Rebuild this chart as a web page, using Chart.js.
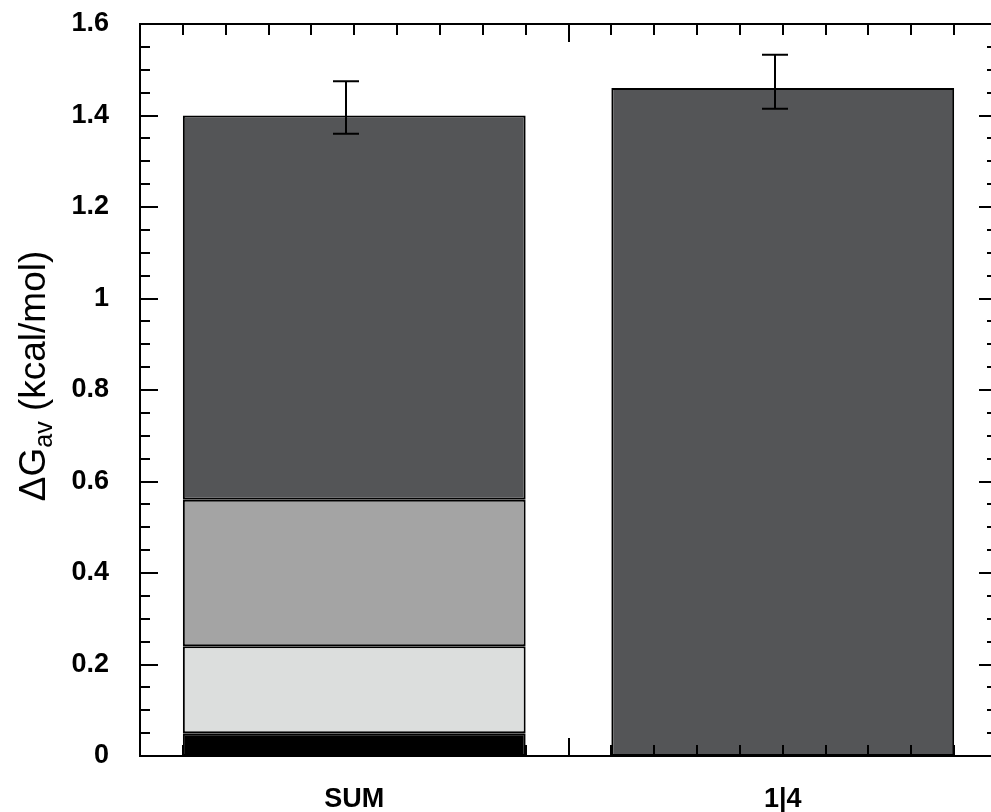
<!DOCTYPE html>
<html>
<head>
<meta charset="utf-8">
<script src="https://cdn.jsdelivr.net/npm/chart.js@4.4.1/dist/chart.umd.min.js"></script>
<style>
  html, body { margin: 0; padding: 0; background: #fff; overflow: hidden; }
  #wrap { width: 1000px; height: 812px; }
</style>
</head>
<body>
<div id="wrap"><canvas id="bars"></canvas></div>
<script>
// categories and stacked contributions (kcal/mol)
const categories = ['SUM', '1|4'];
const partA = [0.05, null];   // black
const partB = [0.19, null];   // light grey
const partC = [0.32, null];   // mid grey
const partD = [0.84, 1.46];   // dark grey (total for 1|4)
// error bars around the bar tops
const errLow = [1.36, 1.415];
const errHigh = [1.475, 1.533];
const yTicks = [0, 0.2, 0.4, 0.6, 0.8, 1, 1.2, 1.4, 1.6];

const colors = ['#000000', '#dcdedd', '#a4a4a4', '#545557'];

const ds = (data, i) => ({
  data: data,
  backgroundColor: colors[i],
  borderColor: '#000',
  borderWidth: 2,
  borderSkipped: false,
  barPercentage: 0.8,
  categoryPercentage: 1.0
});

// frame, inward ticks (major + minor), error bars and y title
const decor = {
  id: 'decor',
  afterDatasetsDraw(chart) {
    const { ctx, chartArea: a, scales: { x, y } } = chart;
    ctx.save();
    ctx.strokeStyle = '#000';
    ctx.lineWidth = 2;
    ctx.strokeRect(a.left, a.top, a.right - a.left, a.bottom - a.top);

    ctx.beginPath();
    // y ticks every 0.05, longer every 0.2
    for (let k = 0; k <= 32; k++) {
      const py = Math.round(y.getPixelForValue(k * 0.05));
      const len = k % 4 === 0 ? 18 : 10;
      ctx.moveTo(a.left, py); ctx.lineTo(a.left + len, py);
      ctx.moveTo(a.right, py); ctx.lineTo(a.right - len, py);
    }
    // x ticks: ten per category, longer at category boundaries
    for (let k = 0; k <= 20; k++) {
      const px = Math.round(x.getPixelForValue(-0.5 + k * 0.1));
      const len = k % 10 === 0 ? 18 : 11;
      ctx.moveTo(px, a.bottom); ctx.lineTo(px, a.bottom - len);
      ctx.moveTo(px, a.top); ctx.lineTo(px, a.top + len);
    }
    ctx.stroke();

    // error bars
    ctx.beginPath();
    categories.forEach((c, i) => {
      const px = Math.round(x.getPixelForValue(i)) - 8;
      const lo = y.getPixelForValue(errLow[i]);
      const hi = y.getPixelForValue(errHigh[i]);
      ctx.moveTo(px, lo); ctx.lineTo(px, hi);
      ctx.moveTo(px - 13, lo); ctx.lineTo(px + 13, lo);
      ctx.moveTo(px - 13, hi); ctx.lineTo(px + 13, hi);
    });
    ctx.stroke();

    // rotated y title with subscript
    const main = '37px "Liberation Sans", Arial, sans-serif';
    const sub = '25px "Liberation Sans", Arial, sans-serif';
    ctx.fillStyle = '#000';
    ctx.translate(45, (a.top + a.bottom) / 2 - 14);
    ctx.rotate(-Math.PI / 2);
    ctx.textBaseline = 'alphabetic';
    ctx.font = main;
    const w1 = ctx.measureText('\u0394G').width;
    const w3 = ctx.measureText(' (kcal/mol)').width;
    ctx.font = sub;
    const w2 = ctx.measureText('av').width;
    let tx = -(w1 + w2 + w3) / 2;
    ctx.font = main;
    ctx.fillText('\u0394G', tx, 0);
    tx += w1;
    ctx.font = sub;
    ctx.fillText('av', tx, 7);
    tx += w2;
    ctx.font = main;
    ctx.fillText(' (kcal/mol)', tx, 0);
    ctx.restore();
  }
};

new Chart(document.getElementById('bars'), {
  type: 'bar',
  data: {
    labels: categories,
    datasets: [ds(partA, 0), ds(partB, 1), ds(partC, 2), ds(partD, 3)]
  },
  options: {
    responsive: true,
    maintainAspectRatio: false,
    animation: false,
    layout: { padding: { top: 24, right: 3, left: 0, bottom: 0 } },
    plugins: { legend: { display: false }, tooltip: { enabled: false } },
    scales: {
      x: {
        stacked: true,
        offset: true,
        grid: { display: false },
        border: { display: false },
        ticks: {
          color: '#000',
          padding: 19,
          font: { family: '"Liberation Sans", Arial, sans-serif', size: 27, weight: 'bold' }
        },
        afterFit: s => { s.height = 56; }
      },
      y: {
        stacked: true,
        min: 0,
        max: 1.6,
        grid: { display: false },
        border: { display: false },
        afterBuildTicks: s => { s.ticks = yTicks.map(v => ({ value: v })); },
        ticks: {
          color: '#000',
          padding: 23,
          callback: v => String(+v.toFixed(1)),
          font: { family: '"Liberation Sans", Arial, sans-serif', size: 27, weight: 'bold' }
        },
        afterFit: s => {
          s.width = 140;
          s.paddingTop = 0;
          s.paddingBottom = 0;
        }
      }
    }
  },
  plugins: [decor]
});
</script>
</body>
</html>
